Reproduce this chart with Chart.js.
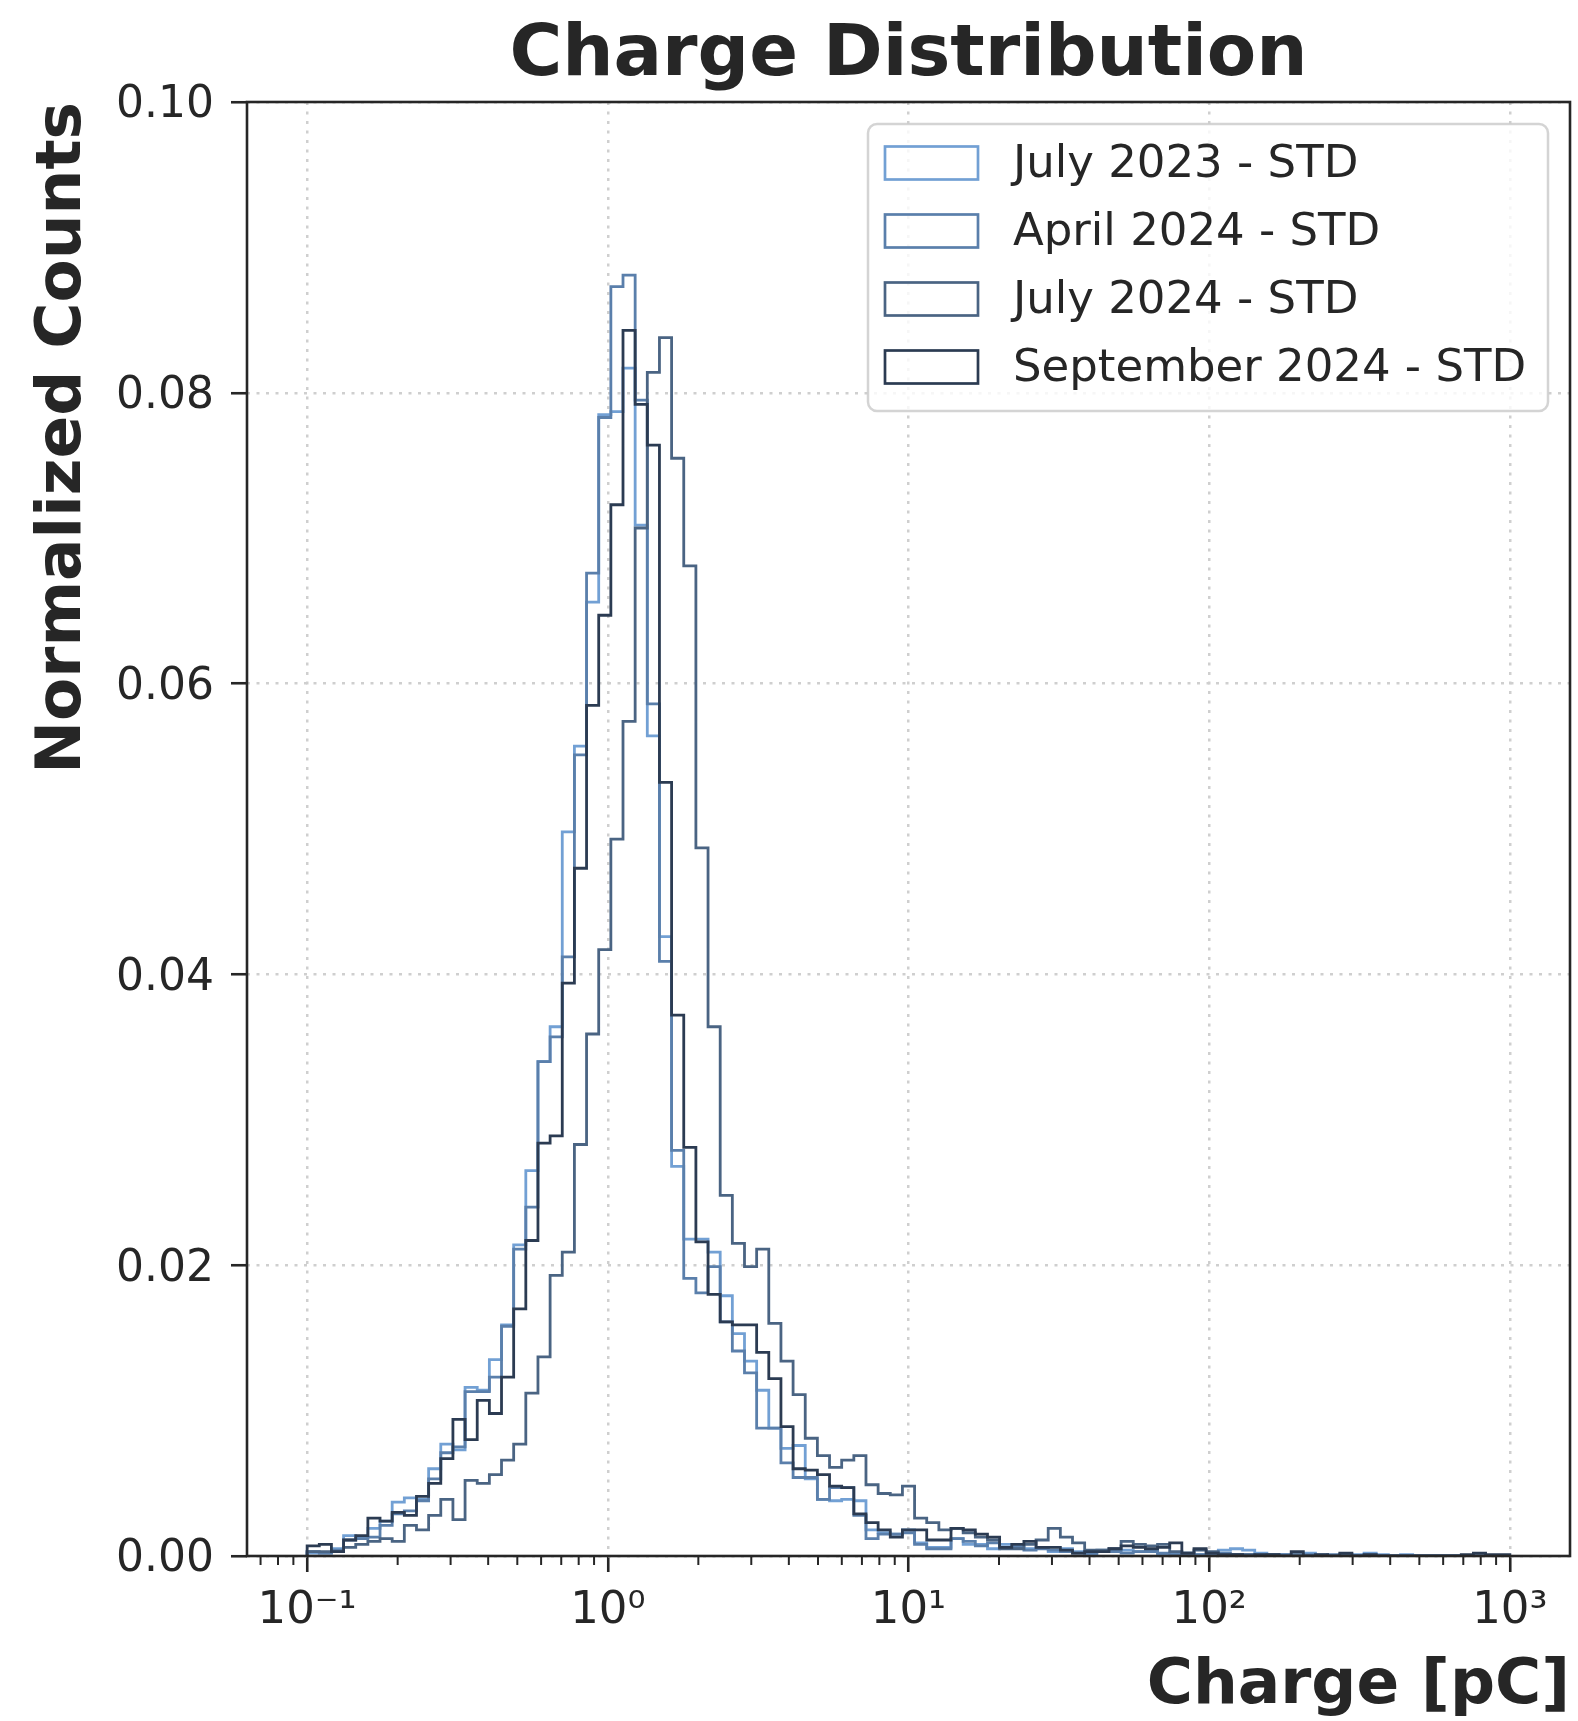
<!DOCTYPE html>
<html>
<head>
<meta charset="utf-8">
<script src="https://cdn.jsdelivr.net/npm/chart.js@4.4.1/dist/chart.umd.min.js"></script>
<style>
  body { margin: 0; background: #ffffff; }
  #wrap { width: 1578px; height: 1721px; }
</style>
</head>
<body>
<div id="wrap"><canvas id="chargeChart" width="1578" height="1721"></canvas></div>
<script>
// 99 log-spaced bins from 0.1 to 1000 pC
const binCount = 99;
const binEdges = Array.from({ length: binCount + 1 }, (_, k) => Math.pow(10, -1 + 4 * k / binCount));

const seriesLabels = ['July 2023 - STD', 'April 2024 - STD', 'July 2024 - STD', 'September 2024 - STD'];
const seriesColors = ['#72a0d4', '#5a7fab', '#4a6483', '#2b3b52'];

const july2023 = [
  0.0002, 0.0002, 0.0005, 0.0014, 0.0013, 0.0019, 0.0024, 0.0037, 0.0040, 0.0039,
  0.0060, 0.0077, 0.0073, 0.0116, 0.0114, 0.0135, 0.0159, 0.0214, 0.0265, 0.0340,
  0.0364, 0.0498, 0.0557, 0.0656, 0.0785, 0.0787, 0.0817, 0.0709, 0.0564, 0.0426,
  0.0268, 0.0218, 0.0218, 0.0209, 0.0179, 0.0153, 0.0134, 0.0114, 0.0088, 0.0074,
  0.0076, 0.0053, 0.0039, 0.0038, 0.0039, 0.0038, 0.0018, 0.0016, 0.0015, 0.0018,
  0.0009, 0.0006, 0.0006, 0.0012, 0.0008, 0.0008, 0.0005, 0.0008, 0.0007, 0.0005,
  0.0006, 0.0003, 0.0005, 0.0003, 0.0001, 0.0003, 0.0004, 0.0004, 0.0003, 0.0004,
  0.0001, 0.0002, 0.0001, 0.0001, 0.0001, 0.0004, 0.0005, 0.0004, 0.0002, 0.0001,
  0.0001, 0.0001, 0.0002, 0.0001, 0.0000, 0.0001, 0.0001, 0.0002, 0.0001, 0.0000,
  0.0001, 0.0000, 0.0000, 0.0000, 0.0000, 0.0000, 0.0000, 0.0000, 0.0000
];
const april2024 = [
  0.0003, 0.0002, 0.0004, 0.0011, 0.0012, 0.0013, 0.0021, 0.0029, 0.0031, 0.0038,
  0.0053, 0.0071, 0.0075, 0.0113, 0.0113, 0.0123, 0.0158, 0.0211, 0.0240, 0.0340,
  0.0357, 0.0412, 0.0551, 0.0676, 0.0783, 0.0873, 0.0881, 0.0795, 0.0586, 0.0409,
  0.0279, 0.0191, 0.0181, 0.0199, 0.0161, 0.0141, 0.0126, 0.0088, 0.0088, 0.0064,
  0.0054, 0.0054, 0.0039, 0.0047, 0.0047, 0.0028, 0.0012, 0.0015, 0.0015, 0.0016,
  0.0008, 0.0005, 0.0005, 0.0012, 0.0010, 0.0007, 0.0009, 0.0006, 0.0006, 0.0004,
  0.0005, 0.0004, 0.0003, 0.0002, 0.0002, 0.0004, 0.0003, 0.0002, 0.0003, 0.0003,
  0.0002, 0.0001, 0.0002, 0.0001, 0.0001, 0.0002, 0.0001, 0.0001, 0.0001, 0.0000,
  0.0001, 0.0000, 0.0001, 0.0000, 0.0001, 0.0000, 0.0000, 0.0001, 0.0000, 0.0000,
  0.0000, 0.0000, 0.0000, 0.0000, 0.0000, 0.0000, 0.0000, 0.0000, 0.0000
];
const july2024 = [
  0.0003, 0.0003, 0.0003, 0.0006, 0.0008, 0.0010, 0.0012, 0.0010, 0.0021, 0.0018,
  0.0028, 0.0039, 0.0025, 0.0052, 0.0050, 0.0056, 0.0066, 0.0077, 0.0112, 0.0137,
  0.0193, 0.0209, 0.0283, 0.0359, 0.0417, 0.0493, 0.0574, 0.0707, 0.0814, 0.0838,
  0.0755, 0.0681, 0.0487, 0.0364, 0.0248, 0.0215, 0.0199, 0.0211, 0.0160, 0.0134,
  0.0111, 0.0081, 0.0069, 0.0061, 0.0066, 0.0069, 0.0049, 0.0043, 0.0042, 0.0048,
  0.0026, 0.0023, 0.0018, 0.0019, 0.0016, 0.0013, 0.0011, 0.0005, 0.0005, 0.0008,
  0.0011, 0.0019, 0.0013, 0.0009, 0.0004, 0.0004, 0.0005, 0.0010, 0.0008, 0.0007,
  0.0008, 0.0003, 0.0002, 0.0004, 0.0003, 0.0001, 0.0001, 0.0001, 0.0000, 0.0001,
  0.0000, 0.0001, 0.0000, 0.0000, 0.0000, 0.0001, 0.0000, 0.0000, 0.0000, 0.0000,
  0.0000, 0.0000, 0.0000, 0.0000, 0.0000, 0.0000, 0.0000, 0.0000, 0.0000
];
const september2024 = [
  0.0007, 0.0008, 0.0003, 0.0011, 0.0014, 0.0026, 0.0024, 0.0030, 0.0028, 0.0041,
  0.0050, 0.0067, 0.0094, 0.0080, 0.0107, 0.0098, 0.0123, 0.0170, 0.0217, 0.0284,
  0.0289, 0.0394, 0.0473, 0.0585, 0.0647, 0.0723, 0.0843, 0.0792, 0.0764, 0.0532,
  0.0372, 0.0281, 0.0216, 0.0180, 0.0161, 0.0159, 0.0159, 0.0140, 0.0122, 0.0089,
  0.0060, 0.0059, 0.0056, 0.0048, 0.0047, 0.0029, 0.0023, 0.0018, 0.0013, 0.0018,
  0.0018, 0.0011, 0.0011, 0.0019, 0.0018, 0.0015, 0.0013, 0.0006, 0.0008, 0.0010,
  0.0006, 0.0006, 0.0004, 0.0002, 0.0003, 0.0003, 0.0005, 0.0007, 0.0006, 0.0005,
  0.0006, 0.0009, 0.0002, 0.0005, 0.0002, 0.0001, 0.0001, 0.0000, 0.0001, 0.0001,
  0.0000, 0.0003, 0.0000, 0.0001, 0.0000, 0.0002, 0.0000, 0.0001, 0.0000, 0.0000,
  0.0000, 0.0000, 0.0000, 0.0000, 0.0000, 0.0001, 0.0002, 0.0001, 0.0001
];
const seriesValues = [july2023, april2024, july2024, september2024];

const xTickValues = [0.1, 1, 10, 100, 1000];
const xTickLabels = ['10⁻¹', '10⁰', '10¹', '10²', '10³'];
const yTickValues = [0, 0.02, 0.04, 0.06, 0.08, 0.1];
const yTickLabels = ['0.00', '0.02', '0.04', '0.06', '0.08', '0.10'];

const ink = '#262626';
const gridGrey = '#cfcfcf';
const family = 'DejaVu Sans';

// outline of a step histogram: baseline, one point per bin, back to baseline
function stepPoints(values) {
  const pts = [{ x: binEdges[0], y: 0 }];
  values.forEach((v, k) => pts.push({ x: binEdges[k], y: v }));
  pts.push({ x: binEdges[binCount], y: values[binCount - 1] });
  pts.push({ x: binEdges[binCount], y: 0 });
  return pts;
}

const decor = {
  id: 'decor',
  afterDraw(chart) {
    const { ctx, chartArea: a } = chart;
    const xs = chart.scales.x;
    ctx.save();

    // minor ticks on the log axis
    ctx.strokeStyle = ink;
    ctx.lineWidth = 2;
    for (let e = -2; e <= 3; e++) {
      for (let m = 2; m <= 9; m++) {
        const v = m * Math.pow(10, e);
        if (v < xs.min || v > xs.max) continue;
        const px = xs.getPixelForValue(v);
        ctx.beginPath();
        ctx.moveTo(px, a.bottom);
        ctx.lineTo(px, a.bottom + 9);
        ctx.stroke();
      }
    }

    // frame
    ctx.lineWidth = 2.6;
    ctx.strokeRect(a.left, a.top, a.right - a.left, a.bottom - a.top);

    // title centred over the axes
    ctx.fillStyle = ink;
    ctx.font = 'bold 72px "' + family + '"';
    ctx.textAlign = 'center';
    ctx.textBaseline = 'alphabetic';
    ctx.fillText('Charge Distribution', (a.left + a.right) / 2, 75);

    // legend, upper right
    const lw = 680, lh = 287;
    const lx = a.right - 22 - lw, ly = a.top + 22;
    ctx.beginPath();
    ctx.roundRect(lx, ly, lw, lh, 9);
    ctx.fillStyle = 'rgba(255,255,255,0.8)';
    ctx.fill();
    ctx.strokeStyle = 'rgba(204,204,204,0.85)';
    ctx.lineWidth = 2.5;
    ctx.stroke();
    ctx.font = '45px "' + family + '"';
    ctx.textAlign = 'left';
    ctx.textBaseline = 'middle';
    chart.data.datasets.forEach((ds, i) => {
      const cy = ly + 39 + i * 68;
      ctx.strokeStyle = ds.borderColor;
      ctx.lineWidth = 2.7;
      ctx.strokeRect(lx + 17, cy - 16.5, 93, 33);
      ctx.fillStyle = ink;
      ctx.fillText(ds.label, lx + 145, cy + 2);
    });
    ctx.restore();
  }
};

new Chart(document.getElementById('chargeChart'), {
  type: 'line',
  data: {
    datasets: seriesValues.map((vals, i) => ({
      label: seriesLabels[i],
      data: stepPoints(vals),
      borderColor: seriesColors[i],
      borderWidth: 2.8,
      stepped: true,
      pointRadius: 0,
      fill: false,
      order: seriesValues.length - i
    }))
  },
  options: {
    responsive: false,
    animation: false,
    layout: { padding: { top: 102, right: 8, left: 0, bottom: 0 } },
    plugins: {
      legend: { display: false },
      title: { display: false },
      tooltip: { enabled: false }
    },
    scales: {
      x: {
        type: 'logarithmic',
        min: Math.pow(10, -1.2),
        max: Math.pow(10, 3.2),
        afterBuildTicks: s => { s.ticks = xTickValues.map(v => ({ value: v })); },
        afterFit: s => { s.height = 165; },
        ticks: {
          callback: (v, i) => xTickLabels[i],
          autoSkip: false,
          maxRotation: 0,
          padding: 12,
          color: ink,
          font: { family, size: 45 }
        },
        grid: { color: gridGrey, lineWidth: 2.5, tickLength: 16, tickColor: ink, tickWidth: 2.6 },
        border: { display: false, dash: [3, 6.5] },
        title: {
          display: true,
          text: 'Charge [pC]',
          align: 'end',
          color: ink,
          font: { family, size: 63, weight: 'bold', lineHeight: 1.0 },
          padding: { top: 0, bottom: 3 }
        }
      },
      y: {
        min: 0,
        max: 0.1,
        afterBuildTicks: s => { s.ticks = yTickValues.map(v => ({ value: v })); },
        afterFit: s => { s.width = 247; },
        ticks: {
          callback: (v, i) => yTickLabels[i],
          padding: 17,
          labelOffset: 4,
          color: ink,
          font: { family, size: 44 }
        },
        grid: { color: gridGrey, lineWidth: 2.5, tickLength: 16, tickColor: ink, tickWidth: 2.6 },
        border: { display: false, dash: [3, 6.5] },
        title: {
          display: true,
          text: 'Normalized Counts',
          align: 'end',
          color: ink,
          font: { family, size: 63, weight: 'bold' },
          padding: { top: 26, bottom: 0 }
        }
      }
    }
  },
  plugins: [decor]
});
</script>
</body>
</html>
